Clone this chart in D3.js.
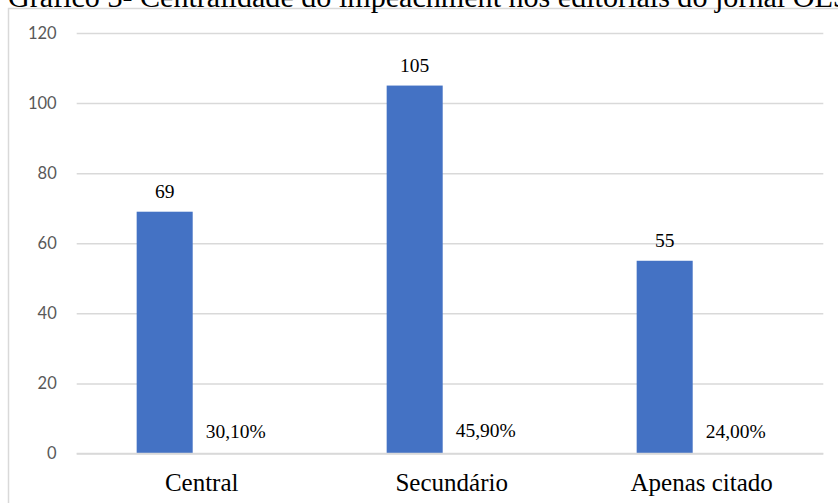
<!DOCTYPE html>
<html>
<head>
<meta charset="utf-8">
<script src="https://cdn.jsdelivr.net/npm/d3@7/dist/d3.min.js"></script>
<style>
  html, body { margin: 0; padding: 0; background: #fff; overflow: hidden; }
  svg { display: block; }
</style>
</head>
<body>
<svg id="chart" width="838" height="503"></svg>
<script>
// Centralidade do impeachment: número de editoriais e percentual por categoria
const categories = ["Central", "Secundário", "Apenas citado"];
const counts = [69, 105, 55];
const percents = [30.10, 45.90, 24.00];
const yTicks = [0, 20, 40, 60, 80, 100, 120];
const titleLead = "Gráfico 3- Centralidade do impeachment nos editoriais do jornal ";
const titleTail = "OESP";

const W = 838, H = 503;
const plot = { left: 76.7, right: 826.7, top: 33, bottom: 453.5 };

const svg = d3.select("#chart");
const serif = "'Liberation Serif', 'Times New Roman', serif";

const ptBR = d3.formatLocale({ decimal: ",", thousands: ".", grouping: [3], currency: ["R$", ""] });
const fmtPct = v => ptBR.format(".2f")(v) + "%";

// Outer frame of the chart box
svg.append("rect")
  .attr("x", 8.5).attr("y", 8.5)
  .attr("width", W + 40).attr("height", H + 40)
  .attr("fill", "#fff")
  .attr("stroke", "#d9d9d9")
  .attr("stroke-width", 1.5);

// Title (sits just above the chart box); sized so the lead runs to ~x=793
const titleText = svg.append("text")
  .attr("x", 8).attr("y", 7)
  .attr("font-family", serif)
  .attr("font-size", 24)
  .attr("fill", "#000");
const lead = titleText.append("tspan").style("white-space", "pre").text(titleLead);
titleText.append("tspan").text(titleTail);
const leadLen = lead.node().getComputedTextLength();
titleText.attr("font-size", 24 * 785 / leadLen);

const y = d3.scaleLinear().domain([0, 120]).range([plot.bottom, plot.top]);
const x = d3.scaleBand().domain(categories).range([plot.left, plot.right]).padding(0);
const xSub = d3.scaleBand().domain(["count", "pct"]).range([0, x.bandwidth()])
  .paddingInner(18 / 74).paddingOuter(0.81);

// Horizontal gridlines + tick labels
const yAxis = d3.axisLeft(y).tickValues(yTicks).tickSize(-(plot.right - plot.left - 3.4)).tickPadding(20);
const gy = svg.append("g").attr("transform", `translate(${plot.left},0)`).call(yAxis);
gy.select(".domain").remove();
gy.selectAll(".tick line").attr("stroke", "#d9d9d9").attr("stroke-width", 1.5);
gy.selectAll(".tick text")
  .attr("font-family", "Lato, 'Open Sans', sans-serif")
  .attr("font-size", 16.5)
  .attr("fill", "#595959");

// Count bars
svg.append("g").selectAll("rect.count")
  .data(categories)
  .join("rect")
  .attr("class", "count")
  .attr("x", (d) => x(d) + xSub("count"))
  .attr("width", xSub.bandwidth())
  .attr("y", (d, i) => y(counts[i]))
  .attr("height", (d, i) => y(0) - y(counts[i]))
  .attr("fill", "#4472c4");

// Baseline drawn over the bars
svg.append("line")
  .attr("x1", plot.left).attr("x2", plot.right - 3.4)
  .attr("y1", y(0)).attr("y2", y(0))
  .attr("stroke", "#d9d9d9").attr("stroke-width", 1.5);

// Count labels
svg.append("g").selectAll("text")
  .data(categories)
  .join("text")
  .attr("x", (d) => x(d) + xSub("count") + xSub.bandwidth() / 2)
  .attr("y", (d, i) => y(counts[i]) - 14)
  .attr("text-anchor", "middle")
  .attr("font-family", serif)
  .attr("font-size", 19.5)
  .attr("fill", "#000")
  .text((d, i) => counts[i]);

// Percent labels, placed over the (fraction-scaled, flat) percent series slot
svg.append("g").selectAll("text")
  .data(categories)
  .join("text")
  .attr("x", (d) => x(d) + xSub("pct") + xSub.bandwidth() / 2 - 3)
  .attr("y", (d, i) => y(percents[i] / 100) - 14.5)
  .attr("text-anchor", "middle")
  .attr("font-family", serif)
  .attr("font-size", 19.5)
  .attr("fill", "#000")
  .text((d, i) => fmtPct(percents[i]));

// Category labels
svg.append("g").selectAll("text")
  .data(categories)
  .join("text")
  .attr("x", (d) => x(d) + x.bandwidth() / 2)
  .attr("y", 491)
  .attr("text-anchor", "middle")
  .attr("font-family", serif)
  .attr("font-size", 25)
  .attr("fill", "#000")
  .text((d) => d);
</script>
</body>
</html>
